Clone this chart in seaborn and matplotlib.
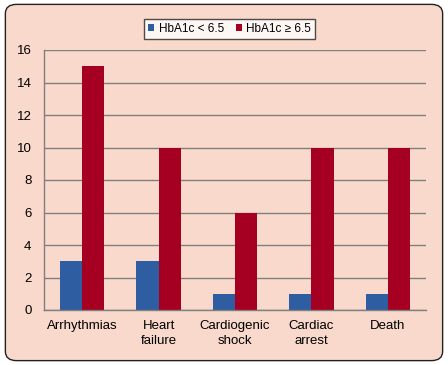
import numpy as np
import pandas as pd
import matplotlib.pyplot as plt
from matplotlib.patches import FancyBboxPatch
import seaborn as sns

categories = ["Arrhythmias", "Heart\nfailure", "Cardiogenic\nshock", "Cardiac\narrest", "Death"]
low_hba1c = [3, 3, 1, 1, 1]
high_hba1c = [15, 10, 6, 10, 10]
series = ["HbA1c < 6.5", "HbA1c \u2265 6.5"]
yticks = [0, 2, 4, 6, 8, 10, 12, 14, 16]

BG = "#F9D9CB"
COLORS = {series[0]: "#2E5DA2", series[1]: "#A50021"}

sns.set_style("white")
plt.rcParams["font.family"] = ["Liberation Sans", "DejaVu Sans"]
plt.rcParams["font.size"] = 9

df = pd.DataFrame({
    "category": categories * 2,
    "group": [series[0]] * len(categories) + [series[1]] * len(categories),
    "value": low_hba1c + high_hba1c,
})

fig = plt.figure(figsize=(4.48, 3.65), dpi=100)
fig.patch.set_facecolor("white")
frame = FancyBboxPatch((0.012, 0.012), 0.976, 0.976,
                       boxstyle="round,pad=0,rounding_size=0.025",
                       transform=fig.transFigure, facecolor=BG,
                       edgecolor="#222222", linewidth=1.0, zorder=-10)
fig.patches.append(frame)

ax = fig.add_axes([44 / 448, 1 - 310 / 365, (426 - 44) / 448, (310 - 50) / 365])
ax.set_facecolor(BG)

sns.barplot(data=df, x="category", y="value", hue="group", palette=COLORS,
            width=0.58, gap=0, saturation=1, linewidth=0, ax=ax, legend=True)

ax.set_ylim(0, 16)
ax.set_xlim(-0.5, len(categories) - 0.5)
ax.set_yticks(yticks)
ax.yaxis.grid(True, color="#7F7F7F", linewidth=1.0)
ax.set_axisbelow(True)
ax.set_xlabel("")
ax.set_ylabel("")

for side in ["top", "right"]:
    ax.spines[side].set_visible(False)
for side in ["left", "bottom"]:
    ax.spines[side].set_color("#7F7F7F")
    ax.spines[side].set_linewidth(1.0)

ax.tick_params(axis="y", length=5, width=1.0, color="#7F7F7F", pad=4,
               labelsize=9.5, labelcolor="black")
ax.tick_params(axis="x", which="major", length=0, pad=7, labelsize=9.5,
               labelcolor="black")
for lbl in ax.get_xticklabels():
    lbl.set_linespacing(1.35)
ax.set_xticks(np.arange(-0.5, len(categories)), minor=True)
ax.tick_params(axis="x", which="minor", length=4, width=1.0, color="#7F7F7F")

leg = ax.legend(loc="center", bbox_to_anchor=(229.5 / 448, 1 - 29 / 365),
                bbox_transform=fig.transFigure, ncol=2, frameon=True,
                fancybox=False, handlelength=0.55, handleheight=0.55,
                handletextpad=0.35, columnspacing=1.0, fontsize=8.5,
                borderpad=0.3, borderaxespad=0, edgecolor="#222222")
leg.get_frame().set_linewidth(1.0)
leg.get_frame().set_facecolor("white")
for t in leg.get_texts():
    t.set_color("black")

fig.savefig("out.png", dpi=100, facecolor=fig.get_facecolor())
